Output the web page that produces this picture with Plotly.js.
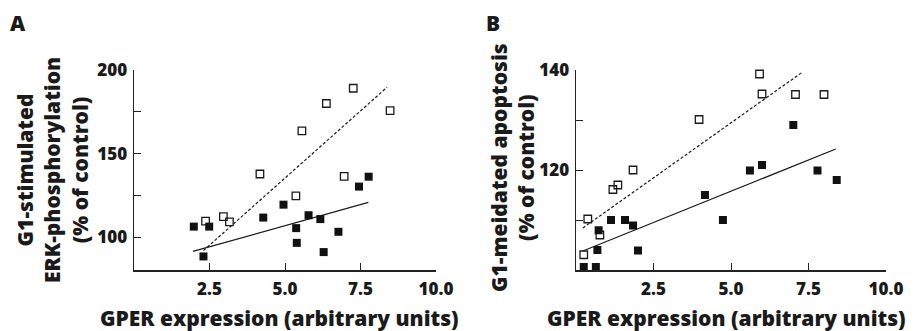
<!DOCTYPE html>
<html>
<head>
<meta charset="utf-8">
<script src="https://cdn.plot.ly/plotly-3.0.1.min.js"></script>
<style>html,body{margin:0;padding:0;background:#fff;}#chart{width:919px;height:331px;}</style>
</head>
<body>
<div id="chart"></div>
<script>
// Panel A: G1-stimulated ERK-phosphorylation
const aOpenX = [2.37, 2.96, 3.16, 4.17, 5.36, 5.56, 6.37, 7.26, 6.96, 8.48];
const aOpenY = [109.8, 112.5, 109.3, 137.9, 124.8, 163.7, 180.0, 189.1, 136.5, 175.8];
const aFillX = [1.98, 2.49, 2.30, 4.28, 4.95, 5.37, 5.39, 5.78, 6.17, 6.28, 6.77, 7.45, 7.77];
const aFillY = [106.5, 106.5, 88.7, 111.9, 119.6, 105.6, 96.8, 113.3, 111.0, 91.3, 103.4, 130.4, 136.3];
const aDashX = [2.30, 8.38];
const aDashY = [92.2, 189.7];
const aSolidX = [1.95, 7.76];
const aSolidY = [91.7, 121.0];

// Panel B: G1-meidated apoptosis
const bOpenX = [0.25, 0.38, 0.77, 1.19, 1.35, 1.84, 3.97, 5.92, 6.00, 7.08, 8.00];
const bOpenY = [103.05, 110.2, 107.0, 116.1, 117.0, 120.0, 130.1, 139.2, 135.2, 135.1, 135.1];
const bFillX = [0.25, 0.64, 0.69, 0.73, 1.13, 1.58, 1.84, 2.00, 4.16, 4.74, 5.61, 6.00, 7.01, 7.79, 8.41];
const bFillY = [100.6, 100.6, 104.0, 107.95, 110.0, 110.0, 108.9, 103.9, 115.0, 110.0, 119.9, 121.0, 129.0, 119.9, 118.0];
const bDashX = [0.22, 7.31];
const bDashY = [108.4, 139.6];
const bSolidX = [0.22, 8.38];
const bSolidY = [103.8, 124.2];

const xTickVals = [2.5, 5.0, 7.5, 10.0];
const xTickText = ['2.5', '5.0', '7.5', '10.0'];
const aYTickVals = [100, 125, 150, 175, 200];
const aYTickText = ['100', '', '150', '', '200'];
const bYTickVals = [110, 120, 130, 140];
const bYTickText = ['', '120', '', '140'];

const FONT = '"Open Sans", Lato, "DejaVu Sans", sans-serif';
const INK = '#1a1a1a';
const WT = 800;

function openSq(x, y, xa, ya) {
  return {x, y, xaxis: xa, yaxis: ya, type: 'scatter', mode: 'markers', cliponaxis: false,
    marker: {symbol: 'square-open', size: 7.5, color: INK, line: {width: 1.3, color: INK}}, showlegend: false};
}
function fillSq(x, y, xa, ya) {
  return {x, y, xaxis: xa, yaxis: ya, type: 'scatter', mode: 'markers', cliponaxis: false,
    marker: {symbol: 'square', size: 8, color: '#111', line: {width: 0}}, showlegend: false};
}
function line(x, y, xa, ya, dash) {
  return {x, y, xaxis: xa, yaxis: ya, type: 'scatter', mode: 'lines', cliponaxis: false,
    line: {color: INK, width: 1.2, dash: dash}, showlegend: false, hoverinfo: 'skip'};
}

const traces = [
  line(aDashX, aDashY, 'x', 'y', '3px,2px'),
  line(aSolidX, aSolidY, 'x', 'y', 'solid'),
  openSq(aOpenX, aOpenY, 'x', 'y'),
  fillSq(aFillX, aFillY, 'x', 'y'),
  line(bDashX, bDashY, 'x2', 'y2', '3px,2px'),
  line(bSolidX, bSolidY, 'x2', 'y2', 'solid'),
  openSq(bOpenX, bOpenY, 'x2', 'y2'),
  fillSq(bFillX, bFillY, 'x2', 'y2')
];

const W = 919, H = 331;
const axisCommon = {
  showline: true, linecolor: '#222', linewidth: 1.5, showgrid: false, zeroline: false,
  ticks: 'inside', ticklen: 7, tickwidth: 1, tickcolor: '#222',
  tickfont: {family: FONT, size: 17, color: INK, weight: WT}
};
const xAx = Object.assign({}, axisCommon, {ticklabelstandoff: 3});
const yAx = Object.assign({}, axisCommon, {ticklabelstandoff: 2});

const yDom = [1 - 270/H, 1 - 70/H];
const tf = (s) => ({family: FONT, size: s, color: INK, weight: WT});
const layout = {
  width: W, height: H,
  margin: {l: 0, r: 0, t: 0, b: 0},
  paper_bgcolor: '#fff', plot_bgcolor: '#fff',
  font: {family: FONT, color: INK},
  xaxis: Object.assign({}, xAx, {domain: [134/W, 436/W], range: [0, 10], tickvals: xTickVals, ticktext: xTickText, anchor: 'y'}),
  yaxis: Object.assign({}, yAx, {domain: yDom, range: [80.6, 200], tickvals: aYTickVals, ticktext: aYTickText, anchor: 'x'}),
  xaxis2: Object.assign({}, xAx, {domain: [576/W, 886/W], range: [0, 10], tickvals: xTickVals, ticktext: xTickText, anchor: 'y2'}),
  yaxis2: Object.assign({}, yAx, {domain: yDom, range: [100, 140], tickvals: bYTickVals, ticktext: bYTickText, anchor: 'x2'}),
  annotations: [
    {text: 'A', xref: 'paper', yref: 'paper', x: 8/W, y: 1 - 7/H, xanchor: 'left', yanchor: 'top', showarrow: false, font: tf(21)},
    {text: 'B', xref: 'paper', yref: 'paper', x: 484/W, y: 1 - 7/H, xanchor: 'left', yanchor: 'top', showarrow: false, font: tf(21)},
    {text: 'G1-stimulated<br>ERK-phosphorylation<br>(% of control)', xref: 'paper', yref: 'paper', x: 52/W, y: 1 - 170/H, xanchor: 'center', yanchor: 'middle', textangle: -90, showarrow: false, font: tf(21)},
    {text: 'G1-meidated apoptosis<br>(% of control)', xref: 'paper', yref: 'paper', x: 512/W, y: 1 - 168/H, xanchor: 'center', yanchor: 'middle', textangle: -90, showarrow: false, font: tf(21)},
    {text: 'GPER expression (arbitrary units)', xref: 'paper', yref: 'paper', x: 279/W, y: 1 - 318/H, xanchor: 'center', yanchor: 'middle', showarrow: false, font: tf(21)},
    {text: 'GPER expression (arbitrary units)', xref: 'paper', yref: 'paper', x: 726/W, y: 1 - 318/H, xanchor: 'center', yanchor: 'middle', showarrow: false, font: tf(21)}
  ]
};

Plotly.newPlot('chart', traces, layout, {displayModeBar: false, staticPlot: true});
</script>
</body>
</html>
